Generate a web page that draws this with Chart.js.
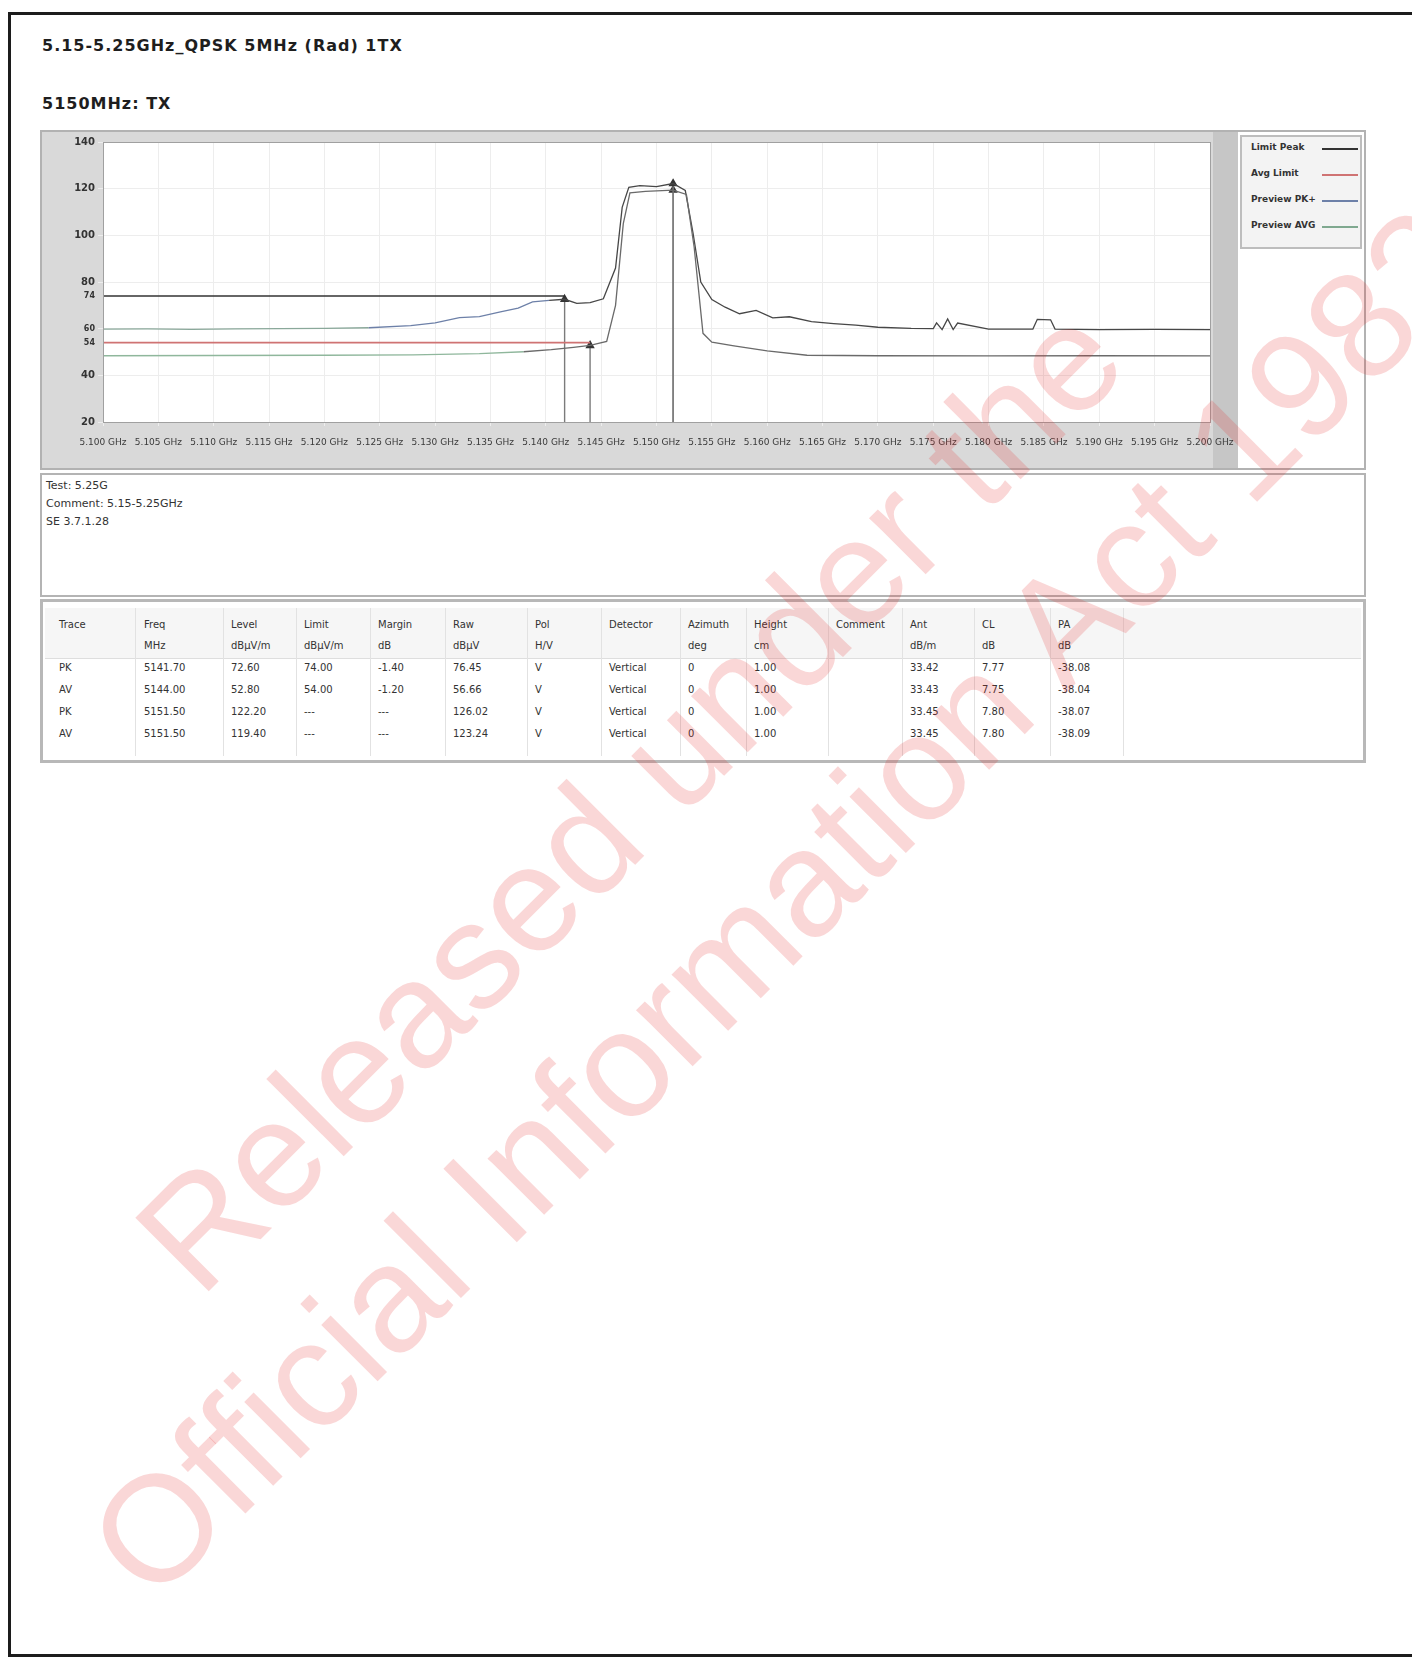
<!DOCTYPE html>
<html><head><meta charset="utf-8">
<script src="https://cdn.jsdelivr.net/npm/chart.js@4.4.1/dist/chart.umd.min.js"></script>
<style>
html,body{margin:0;padding:0;background:#fff;}
body{width:1412px;height:1657px;position:relative;overflow:hidden;font-family:"DejaVu Sans",sans-serif;color:#222;}
#pageBorder{position:absolute;left:8px;top:12px;width:1500px;height:1645px;border:3px solid #1c1c1c;box-sizing:border-box;}
.t{position:absolute;left:42px;font-weight:bold;font-size:16px;letter-spacing:1px;color:#1e1e1e;white-space:nowrap;}
#frame{position:absolute;left:40px;top:130px;width:1326px;height:340px;box-sizing:border-box;border:2px solid #b2b2b2;background:#d9d9d9;}
#chartBox{position:absolute;left:0;top:0;width:1196px;height:336px;}
#rightPanel{position:absolute;left:1196px;top:0;width:126px;height:336px;background:#fff;}
#legend{position:absolute;left:2px;top:3px;width:122px;height:114px;box-sizing:border-box;border:2px solid #bdbdbd;background:#f3f3f3;}
.lg{position:absolute;left:9px;font-size:9px;font-weight:bold;color:#333;white-space:nowrap;}
.ls{position:absolute;left:80px;width:36px;height:0;border-top:2px solid #888;}
#info{position:absolute;left:40px;top:473px;width:1326px;height:124px;box-sizing:border-box;border:2px solid #b4b4b4;background:#fff;}
.il{position:absolute;left:4px;font-size:11px;color:#333;white-space:nowrap;}
#table{position:absolute;left:40px;top:599px;width:1326px;height:164px;box-sizing:border-box;border:3px solid #b8b8b8;background:#fff;}
#thead{position:absolute;left:2px;top:6px;width:1316px;height:50px;background:#f6f6f6;border-bottom:1px solid #dedede;}
.c{position:absolute;font-size:10px;color:#333;white-space:nowrap;}
.vl{position:absolute;top:6px;width:0;height:148px;border-left:1px solid #e2e2e2;}
#wm{position:absolute;left:0;top:0;width:1412px;height:1657px;pointer-events:none;}
</style></head>
<body>
<div id="pageBorder"></div>
<div class="t" style="top:36px;">5.15-5.25GHz_QPSK 5MHz (Rad) 1TX</div>
<div class="t" style="top:94px;">5150MHz: TX</div>

<div id="frame">
  <div id="chartBox"><canvas id="c"></canvas></div>
  <div id="rightPanel"><div id="legend"></div></div>
</div>

<div id="info"></div>
<div id="table"><div id="thead"></div></div>

<svg id="wm" xmlns="http://www.w3.org/2000/svg">
  <g font-family="Liberation Sans, Arial, sans-serif" font-size="151" fill="rgba(228,40,40,0.19)">
    <text x="200" y="1300" transform="rotate(-45 200 1300)">Released under the</text>
    <text x="153" y="1606" transform="rotate(-45 153 1606)">Official Information Act 1982</text>
  </g>
</svg>

<script>
// ---------------- data ----------------
const xTickValues = [5100,5105,5110,5115,5120,5125,5130,5135,5140,5145,5150,5155,5160,5165,5170,5175,5180,5185,5190,5195,5200];
const xTickLabels = ["5.100 GHz","5.105 GHz","5.110 GHz","5.115 GHz","5.120 GHz","5.125 GHz","5.130 GHz","5.135 GHz","5.140 GHz","5.145 GHz","5.150 GHz","5.155 GHz","5.160 GHz","5.165 GHz","5.170 GHz","5.175 GHz","5.180 GHz","5.185 GHz","5.190 GHz","5.195 GHz","5.200 GHz"];
const yTickValues = [20,40,54,60,74,80,100,120,140];
const yTickLabels = ["20","40","54","60","74","80","100","120","140"];

const peakFreq  = [5100,5104,5108,5112,5116,5120,5124,5127.8,5130,5132.2,5134,5135.9,5137.5,5138.8,5140.3,5141.7,5142.8,5144,5145.2,5146.3,5146.9,5147.5,5148.5,5150,5151.5,5152.6,5153.3,5154,5155,5156.2,5157.5,5159,5160.5,5162,5164,5166,5168,5170,5173,5175,5175.3,5175.8,5176.3,5176.8,5177.2,5180,5184,5184.4,5185.6,5186,5190,5195,5200];
const peakLevel = [59.8,59.9,59.7,59.9,60.0,60.1,60.4,61.3,62.5,64.7,65.2,67.2,68.8,71.5,72.1,72.6,70.8,71.2,72.8,86.0,112.0,120.6,121.3,120.9,122.2,119.2,101.0,80.0,72.5,69.2,66.4,67.8,64.6,65.1,63.0,62.2,61.5,60.6,60.1,60.0,62.5,59.6,64.2,59.6,62.4,59.8,59.8,64.0,63.8,59.8,59.6,59.7,59.6];

const avgFreq  = [5100,5110,5120,5128,5134,5138,5140.5,5142.5,5144,5145.5,5146.3,5147,5147.6,5149,5151.5,5152.7,5153.4,5154.2,5155,5157,5160,5163.6,5170,5180,5190,5200];
const avgLevel = [48.4,48.5,48.6,48.8,49.3,50.1,51.0,52.0,52.8,54.5,70.0,105.0,118.2,118.8,119.4,117.5,95.0,58.0,54.2,52.6,50.5,48.6,48.4,48.3,48.4,48.3];

const limitPkFreq  = [5100,5141.7];
const limitPkLevel = [74,74];
const limitAvFreq  = [5100,5144];
const limitAvLevel = [54,54];

const markerNames = ["M1","M2","M3","M4"];
const markerFreq  = [5141.7,5144.0,5151.5,5151.5];
const markerLevel = [72.6,52.8,122.2,119.4];
const axisFloor = 20;

const legendLabels = ["Limit Peak","Avg Limit","Preview PK+","Preview AVG"];
const legendColors = ["#333333","#cf7373","#6d80a8","#7fa88f"];

const infoLines = ["Test: 5.25G","Comment: 5.15-5.25GHz","SE 3.7.1.28"];

const tableHeader = ["Trace","Freq","Level","Limit","Margin","Raw","Pol","Detector","Azimuth","Height","Comment","Ant","CL","PA"];
const tableUnits  = ["","MHz","dBµV/m","dBµV/m","dB","dBµV","H/V","","deg","cm","","dB/m","dB","dB"];
const tableRows = [
  ["PK","5141.70","72.60","74.00","-1.40","76.45","V","Vertical","0","1.00","","33.42","7.77","-38.08"],
  ["AV","5144.00","52.80","54.00","-1.20","56.66","V","Vertical","0","1.00","","33.43","7.75","-38.04"],
  ["PK","5151.50","122.20","---","---","126.02","V","Vertical","0","1.00","","33.45","7.80","-38.07"],
  ["AV","5151.50","119.40","---","---","123.24","V","Vertical","0","1.00","","33.45","7.80","-38.09"]
];

// ---------------- build page text ----------------
const colX = [16,101,188,261,335,410,492,566,645,711,793,867,939,1015];
const rowY = [17,38,60,82,104,126];
const th = document.getElementById('table');
function cell(txt, x, y){
  const d=document.createElement('div'); d.className='c'; d.textContent=txt;
  d.style.left=x+'px'; d.style.top=y+'px';
  th.appendChild(d);
}
tableHeader.forEach((h,i)=>cell(h,colX[i],rowY[0]));
tableUnits.forEach((h,i)=>cell(h,colX[i],rowY[1]));
tableRows.forEach((r,ri)=>r.forEach((v,i)=>cell(v,colX[i],rowY[2+ri])));
[92,180,253,327,402,484,558,637,703,785,859,931,1007,1080].forEach(x=>{
  const v=document.createElement('div'); v.className='vl'; v.style.left=x+'px'; th.appendChild(v);
});
const info=document.getElementById('info');
infoLines.forEach((t,i)=>{const d=document.createElement('div');d.className='il';d.textContent=t;d.style.top=(4+i*18)+'px';info.appendChild(d);});
const lg=document.getElementById('legend');
legendLabels.forEach((t,i)=>{
  const d=document.createElement('div');d.className='lg';d.textContent=t;d.style.top=(5+i*26)+'px';lg.appendChild(d);
  const s=document.createElement('div');s.className='ls';s.style.top=(11+i*26)+'px';s.style.borderTopColor=legendColors[i];lg.appendChild(s);
});

// ---------------- chart ----------------
const pts=(xs,ys)=>xs.map((x,i)=>({x:x,y:ys[i]}));
const datasets=[
  {label:legendLabels[0],data:pts(limitPkFreq,limitPkLevel),borderColor:legendColors[0],borderWidth:1.6,pointRadius:0},
  {label:legendLabels[1],data:pts(limitAvFreq,limitAvLevel),borderColor:legendColors[1],borderWidth:1.6,pointRadius:0},
  {label:legendLabels[3],data:pts(avgFreq,avgLevel),borderColor:'#6a6a6a',borderWidth:1.3,pointRadius:0,
    segment:{borderColor:c=>c.p1.parsed.x<5139?'#8fb79c':'#6a6a6a'}},
  {label:legendLabels[2],data:pts(peakFreq,peakLevel),borderColor:'#474747',borderWidth:1.3,pointRadius:0,
    segment:{borderColor:c=>c.p1.parsed.x<5126?'#8aa89a':(c.p1.parsed.x<5141?'#6d80a8':'#474747')}}
];
markerFreq.forEach((f,i)=>{
  datasets.push({label:markerNames[i],data:[{x:f,y:markerLevel[i]},{x:f,y:axisFloor}],
    borderColor:'#7b7b7b',borderWidth:1.4,pointRadius:[4,0],pointStyle:'triangle',
    pointBackgroundColor:'#333',pointBorderColor:'#333'});
});

const bgPlugin={id:'bg',beforeDraw(ch){
  const {ctx,chartArea:a}=ch; ctx.save();
  ctx.fillStyle='#c6c6c6'; ctx.fillRect(a.right+3,0,ch.width-a.right-3,ch.height);
  ctx.fillStyle='#ffffff'; ctx.fillRect(a.left,a.top,a.right-a.left,a.bottom-a.top);
  ctx.restore();
},afterDraw(ch){
  const {ctx,chartArea:a}=ch; ctx.save(); ctx.strokeStyle='#a0a0a0'; ctx.lineWidth=1;
  ctx.strokeRect(a.left+0.5,a.top+0.5,a.right-a.left,a.bottom-a.top); ctx.restore();
}};

new Chart(document.getElementById('c'),{
  type:'line',
  data:{datasets:datasets},
  plugins:[bgPlugin],
  options:{
    responsive:true,maintainAspectRatio:false,animation:false,
    layout:{padding:{top:10,right:28,bottom:0,left:0}},
    plugins:{legend:{display:false},tooltip:{enabled:false}},
    elements:{line:{tension:0}},
    scales:{
      x:{type:'linear',min:5100,max:5200,
        afterBuildTicks:s=>{s.ticks=xTickValues.map(v=>({value:v}));},
        afterFit:s=>{s.height=46;s.paddingRight=0;},
        grid:{color:'#ededed',tickLength:4,drawTicks:true},
        border:{display:false},
        ticks:{autoSkip:false,maxRotation:0,padding:11,color:'#3a3a3a',font:{family:'DejaVu Sans',size:9},
          callback:(v)=>{const i=xTickValues.indexOf(v);return i>=0?xTickLabels[i]:'';}}},
      y:{type:'linear',min:20,max:140,
        afterBuildTicks:s=>{s.ticks=yTickValues.map(v=>({value:v}));},
        afterFit:s=>{s.width=61;},
        grid:{color:(c)=>([54,74].includes(c.tick&&c.tick.value)?'rgba(0,0,0,0)':'#ededed'),tickLength:5},
        border:{display:false},
        ticks:{padding:3,color:'#333',font:(c)=>({family:'DejaVu Sans',size:([54,60,74].includes(c.tick&&c.tick.value))?8:10,weight:'bold'}),
          callback:(v)=>{const i=yTickValues.indexOf(v);return i>=0?yTickLabels[i]:'';}}}
    }
  }
});
</script>
</body></html>
